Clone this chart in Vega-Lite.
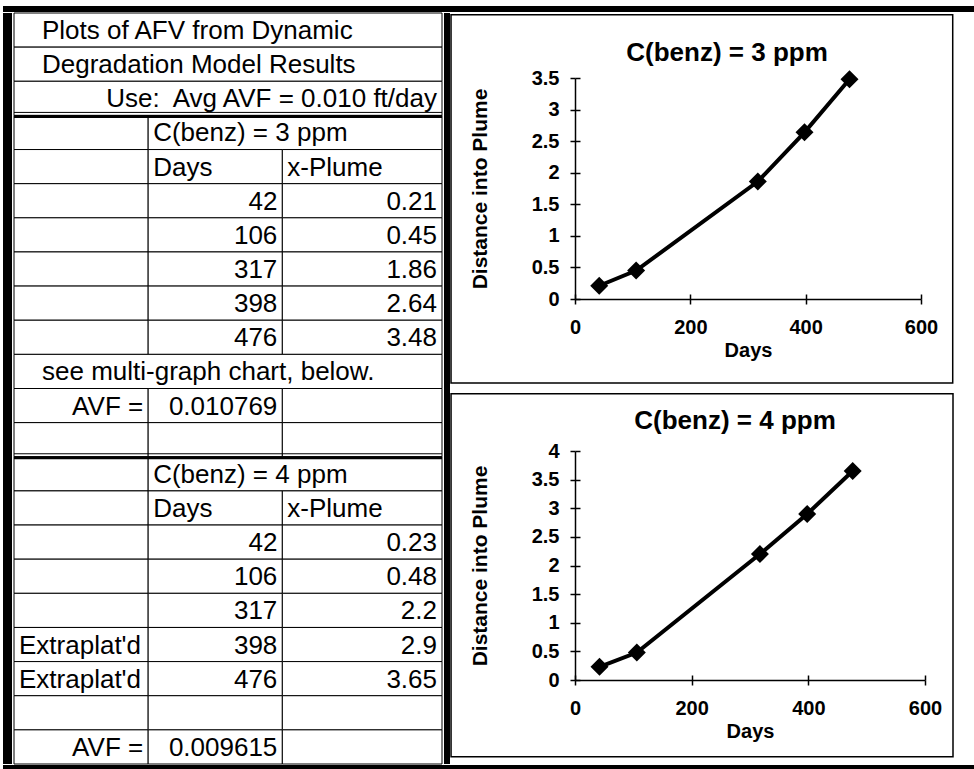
{
  "$schema": "https://vega.github.io/schema/vega-lite/v6.json",
  "background": "white",
  "padding": {"left": 3, "top": 6, "right": 0, "bottom": 0},
  "config": {
    "font": "Liberation Sans",
    "view": {"stroke": null},
    "axis": {"grid": false, "domainColor": "black", "domainWidth": 1.5, "tickColor": "black", "tickWidth": 1.5, "tickSize": 5, "labelFont": "Liberation Sans", "labelFontSize": 20, "labelFontWeight": "bold", "labelColor": "black", "labelFlush": false, "labelOverlap": false, "titleFont": "Liberation Sans", "titleFontSize": 20, "titleFontWeight": "bold", "titleColor": "black"},
    "axisX": {"labelPadding": 13, "titlePadding": 3},
    "axisY": {"labelPadding": 11, "titlePadding": 41, "titleFontSize": 21},
    "title": {"font": "Liberation Sans", "fontSize": 26, "fontWeight": "bold", "color": "black", "anchor": "middle", "frame": "group"}
  },
  "datasets": {
    "cols": [{"col": "A", "start": 0, "end": 10}, {"col": "B", "start": 10, "end": 20}, {"col": "C", "start": 20, "end": 31.9}],
    "rows": [{"row": 1}, {"row": 2}, {"row": 3}, {"row": 4}, {"row": 5}, {"row": 6}, {"row": 7}, {"row": 8}, {"row": 9}, {"row": 10}, {"row": 11}, {"row": 12}, {"row": 13}, {"row": 14}, {"row": 15}, {"row": 16}, {"row": 17}, {"row": 18}, {"row": 19}, {"row": 20}, {"row": 21}, {"row": 22}],
    "breaks": [{"row": 4}, {"row": 14}],
    "blank": [{}],
    "c3": [{"days": 42, "plume": 0.21}, {"days": 106, "plume": 0.45}, {"days": 317, "plume": 1.86}, {"days": 398, "plume": 2.64}, {"days": 476, "plume": 3.48}],
    "c4": [{"days": 42, "plume": 0.23}, {"days": 106, "plume": 0.48}, {"days": 317, "plume": 2.2}, {"days": 398, "plume": 2.9}, {"days": 476, "plume": 3.65}],
    "cells": [
      {"row": 1, "c1": "A", "c2": "C", "text": "Plots of AFV from Dynamic", "align": "indent"},
      {"row": 2, "c1": "A", "c2": "C", "text": "Degradation Model Results", "align": "indent"},
      {"row": 3, "c1": "A", "c2": "C", "text": "Use:\u00a0 Avg AVF = 0.010 ft/day", "align": "right"},
      {"row": 4, "c1": "A", "c2": "A", "text": "", "align": "none"},
      {"row": 4, "c1": "B", "c2": "C", "text": "C(benz) = 3 ppm", "align": "left"},
      {"row": 5, "c1": "A", "c2": "A", "text": "", "align": "none"},
      {"row": 5, "c1": "B", "c2": "B", "text": "Days", "align": "left"},
      {"row": 5, "c1": "C", "c2": "C", "text": "x-Plume", "align": "left"},
      {"row": 6, "c1": "A", "c2": "A", "text": "", "align": "none"},
      {"row": 6, "c1": "B", "c2": "B", "text": "42", "align": "right"},
      {"row": 6, "c1": "C", "c2": "C", "text": "0.21", "align": "right"},
      {"row": 7, "c1": "A", "c2": "A", "text": "", "align": "none"},
      {"row": 7, "c1": "B", "c2": "B", "text": "106", "align": "right"},
      {"row": 7, "c1": "C", "c2": "C", "text": "0.45", "align": "right"},
      {"row": 8, "c1": "A", "c2": "A", "text": "", "align": "none"},
      {"row": 8, "c1": "B", "c2": "B", "text": "317", "align": "right"},
      {"row": 8, "c1": "C", "c2": "C", "text": "1.86", "align": "right"},
      {"row": 9, "c1": "A", "c2": "A", "text": "", "align": "none"},
      {"row": 9, "c1": "B", "c2": "B", "text": "398", "align": "right"},
      {"row": 9, "c1": "C", "c2": "C", "text": "2.64", "align": "right"},
      {"row": 10, "c1": "A", "c2": "A", "text": "", "align": "none"},
      {"row": 10, "c1": "B", "c2": "B", "text": "476", "align": "right"},
      {"row": 10, "c1": "C", "c2": "C", "text": "3.48", "align": "right"},
      {"row": 11, "c1": "A", "c2": "C", "text": "see multi-graph chart, below.", "align": "indent"},
      {"row": 12, "c1": "A", "c2": "A", "text": "AVF =", "align": "right"},
      {"row": 12, "c1": "B", "c2": "B", "text": "0.010769", "align": "right"},
      {"row": 12, "c1": "C", "c2": "C", "text": "", "align": "none"},
      {"row": 13, "c1": "A", "c2": "A", "text": "", "align": "none"},
      {"row": 13, "c1": "B", "c2": "B", "text": "", "align": "none"},
      {"row": 13, "c1": "C", "c2": "C", "text": "", "align": "none"},
      {"row": 14, "c1": "A", "c2": "A", "text": "", "align": "none"},
      {"row": 14, "c1": "B", "c2": "C", "text": "C(benz) = 4 ppm", "align": "left"},
      {"row": 15, "c1": "A", "c2": "A", "text": "", "align": "none"},
      {"row": 15, "c1": "B", "c2": "B", "text": "Days", "align": "left"},
      {"row": 15, "c1": "C", "c2": "C", "text": "x-Plume", "align": "left"},
      {"row": 16, "c1": "A", "c2": "A", "text": "", "align": "none"},
      {"row": 16, "c1": "B", "c2": "B", "text": "42", "align": "right"},
      {"row": 16, "c1": "C", "c2": "C", "text": "0.23", "align": "right"},
      {"row": 17, "c1": "A", "c2": "A", "text": "", "align": "none"},
      {"row": 17, "c1": "B", "c2": "B", "text": "106", "align": "right"},
      {"row": 17, "c1": "C", "c2": "C", "text": "0.48", "align": "right"},
      {"row": 18, "c1": "A", "c2": "A", "text": "", "align": "none"},
      {"row": 18, "c1": "B", "c2": "B", "text": "317", "align": "right"},
      {"row": 18, "c1": "C", "c2": "C", "text": "2.2", "align": "right"},
      {"row": 19, "c1": "A", "c2": "A", "text": "Extraplat'd", "align": "left"},
      {"row": 19, "c1": "B", "c2": "B", "text": "398", "align": "right"},
      {"row": 19, "c1": "C", "c2": "C", "text": "2.9", "align": "right"},
      {"row": 20, "c1": "A", "c2": "A", "text": "Extraplat'd", "align": "left"},
      {"row": 20, "c1": "B", "c2": "B", "text": "476", "align": "right"},
      {"row": 20, "c1": "C", "c2": "C", "text": "3.65", "align": "right"},
      {"row": 21, "c1": "A", "c2": "A", "text": "", "align": "none"},
      {"row": 21, "c1": "B", "c2": "B", "text": "", "align": "none"},
      {"row": 21, "c1": "C", "c2": "C", "text": "", "align": "none"},
      {"row": 22, "c1": "A", "c2": "A", "text": "AVF =", "align": "right"},
      {"row": 22, "c1": "B", "c2": "B", "text": "0.009615", "align": "right"},
      {"row": 22, "c1": "C", "c2": "C", "text": "", "align": "none"}
    ]
  },
  "spacing": 0,
  "vconcat": [
    {"width": 971, "height": 6, "data": {"name": "blank"}, "mark": {"type": "rect", "color": "black"}, "encoding": {}},
    {
      "spacing": 13,
      "hconcat": [
        {
          "spacing": 0,
          "hconcat": [
            {"width": 9, "height": 751, "data": {"name": "blank"}, "mark": {"type": "rect", "color": "black"}, "encoding": {}},
            {
              "width": 428, "height": 751,
              "data": {"name": "cells"},
              "transform": [
                {"lookup": "c1", "from": {"data": {"name": "cols"}, "key": "col", "fields": ["start"]}},
                {"lookup": "c2", "from": {"data": {"name": "cols"}, "key": "col", "fields": ["end"]}}
              ],
              "encoding": {"y": {"field": "row", "type": "ordinal", "scale": {"domain": [1, 2, 3, 4, 5, 6, 7, 8, 9, 10, 11, 12, 13, 14, 15, 16, 17, 18, 19, 20, 21, 22], "paddingInner": 0, "paddingOuter": 0}, "axis": null}},
              "layer": [
                {"mark": {"type": "rect", "fill": "white", "stroke": "black", "strokeWidth": 1},
                 "encoding": {"x": {"field": "start", "type": "quantitative", "scale": {"domain": [0, 31.9], "nice": false, "zero": false}, "axis": null}, "x2": {"field": "end"}}},
                {"transform": [{"filter": "datum.align === 'left'"}],
                 "mark": {"type": "text", "align": "left", "baseline": "middle", "dx": 5, "dy": 1, "fontSize": 26, "font": "Liberation Sans", "color": "black"},
                 "encoding": {"x": {"field": "start", "type": "quantitative"}, "text": {"field": "text"}}},
                {"transform": [{"filter": "datum.align === 'indent'"}],
                 "mark": {"type": "text", "align": "left", "baseline": "middle", "dx": 28, "dy": 1, "fontSize": 26, "font": "Liberation Sans", "color": "black"},
                 "encoding": {"x": {"field": "start", "type": "quantitative"}, "text": {"field": "text"}}},
                {"transform": [{"filter": "datum.align === 'right'"}],
                 "mark": {"type": "text", "align": "right", "baseline": "middle", "dx": -5, "dy": 1, "fontSize": 26, "font": "Liberation Sans", "color": "black"},
                 "encoding": {"x": {"field": "end", "type": "quantitative"}, "text": {"field": "text"}}},
                {"data": {"name": "breaks"}, "mark": {"type": "rule", "color": "black", "strokeWidth": 3, "yOffset": 1},
                 "encoding": {"y": {"field": "row", "type": "ordinal", "bandPosition": 0}}},
                {"data": {"name": "breaks"}, "mark": {"type": "rule", "color": "black", "strokeWidth": 1, "yOffset": -3},
                 "encoding": {"y": {"field": "row", "type": "ordinal", "bandPosition": 0}}}
              ]
            },
            {"width": 6, "height": 751, "data": {"name": "blank"}, "mark": {"type": "rect", "color": "black"}, "encoding": {}},
            {
              "spacing": 0,
              "vconcat": [
                {"width": 506, "height": 1, "data": {"name": "blank"}, "mark": {"type": "rect", "color": "white"}, "encoding": {}},
                {
                  "spacing": 9,
                  "vconcat": [
                    {
                      "width": 346, "height": 221,
                      "title": {"text": "C(benz) = 3 ppm", "offset": -52, "dx": -21},
                      "resolve": {"axis": {"x": "independent", "y": "independent"}},
                      "layer": [
                        {"data": {"name": "blank"},
                         "mark": {"type": "rect", "fill": "transparent", "stroke": "black", "strokeWidth": 1.5},
                         "encoding": {
                           "x": {"datum": -215, "type": "quantitative", "scale": {"domain": [0, 600], "nice": false, "zero": false}, "axis": null},
                           "x2": {"datum": 655},
                           "y": {"datum": 4.5, "type": "quantitative", "scale": {"domain": [0, 3.5], "nice": false, "zero": false}, "axis": null},
                           "y2": {"datum": -1.33}}},
                        {"data": {"name": "c3"},
                         "mark": {"type": "line", "color": "black", "strokeWidth": 4},
                         "encoding": {
                           "x": {"field": "days", "type": "quantitative", "scale": {"domain": [0, 600], "nice": false, "zero": false}, "axis": {"title": "Days", "values": [0, 200, 400, 600], "zindex": 1}},
                           "y": {"field": "plume", "type": "quantitative", "scale": {"domain": [0, 3.5], "nice": false, "zero": false}, "axis": {"title": "Distance into Plume", "values": [0, 0.5, 1, 1.5, 2, 2.5, 3, 3.5], "format": "~g", "zindex": 1}}}},
                        {"data": {"name": "c3"},
                         "mark": {"type": "point", "shape": "diamond", "filled": true, "color": "black", "size": 324, "opacity": 1},
                         "encoding": {
                           "x": {"field": "days", "type": "quantitative", "scale": {"domain": [0, 600], "nice": false, "zero": false}, "axis": {"orient": "bottom", "values": [0, 200, 400, 600], "labels": false, "domain": false, "title": null, "tickSize": -5, "zindex": 1}},
                           "y": {"field": "plume", "type": "quantitative", "scale": {"domain": [0, 3.5], "nice": false, "zero": false}, "axis": {"orient": "left", "values": [0, 0.5, 1, 1.5, 2, 2.5, 3, 3.5], "labels": false, "domain": false, "title": null, "tickSize": -5, "zindex": 1}}}}
                      ]
                    },
                    {
                      "width": 350, "height": 229,
                      "title": {"text": "C(benz) = 4 ppm", "offset": -41, "dx": -15},
                      "resolve": {"axis": {"x": "independent", "y": "independent"}},
                      "layer": [
                        {"data": {"name": "blank"},
                         "mark": {"type": "rect", "fill": "transparent", "stroke": "black", "strokeWidth": 1.5},
                         "encoding": {
                           "x": {"datum": -212.5, "type": "quantitative", "scale": {"domain": [0, 600], "nice": false, "zero": false}, "axis": null},
                           "x2": {"datum": 648},
                           "y": {"datum": 5.0, "type": "quantitative", "scale": {"domain": [0, 4], "nice": false, "zero": false}, "axis": null},
                           "y2": {"datum": -1.34}}},
                        {"data": {"name": "c4"},
                         "mark": {"type": "line", "color": "black", "strokeWidth": 4},
                         "encoding": {
                           "x": {"field": "days", "type": "quantitative", "scale": {"domain": [0, 600], "nice": false, "zero": false}, "axis": {"title": "Days", "values": [0, 200, 400, 600], "zindex": 1}},
                           "y": {"field": "plume", "type": "quantitative", "scale": {"domain": [0, 4], "nice": false, "zero": false}, "axis": {"title": "Distance into Plume", "values": [0, 0.5, 1, 1.5, 2, 2.5, 3, 3.5, 4], "format": "~g", "zindex": 1}}}},
                        {"data": {"name": "c4"},
                         "mark": {"type": "point", "shape": "diamond", "filled": true, "color": "black", "size": 324, "opacity": 1},
                         "encoding": {
                           "x": {"field": "days", "type": "quantitative", "scale": {"domain": [0, 600], "nice": false, "zero": false}, "axis": {"orient": "bottom", "values": [0, 200, 400, 600], "labels": false, "domain": false, "title": null, "tickSize": -5, "zindex": 1}},
                           "y": {"field": "plume", "type": "quantitative", "scale": {"domain": [0, 4], "nice": false, "zero": false}, "axis": {"orient": "left", "values": [0, 0.5, 1, 1.5, 2, 2.5, 3, 3.5, 4], "labels": false, "domain": false, "title": null, "tickSize": -5, "zindex": 1}}}}
                      ]
                    }
                  ]
                }
              ]
            }
          ]
        },
        {
          "width": 8, "height": 751,
          "data": {"name": "rows"},
          "layer": [
            {"mark": {"type": "rule", "color": "black", "strokeWidth": 1},
             "encoding": {"y": {"field": "row", "type": "ordinal", "bandPosition": 0, "scale": {"paddingInner": 0, "paddingOuter": 0}, "axis": null}}},
            {"data": {"name": "blank"}, "mark": {"type": "rule", "color": "black", "strokeWidth": 1},
             "encoding": {"x": {"datum": 0, "type": "quantitative", "scale": {"domain": [0, 1]}, "axis": null}}}
          ]
        }
      ]
    },
    {"width": 971, "height": 6, "data": {"name": "blank"}, "mark": {"type": "rect", "color": "black"}, "encoding": {}}
  ]
}
